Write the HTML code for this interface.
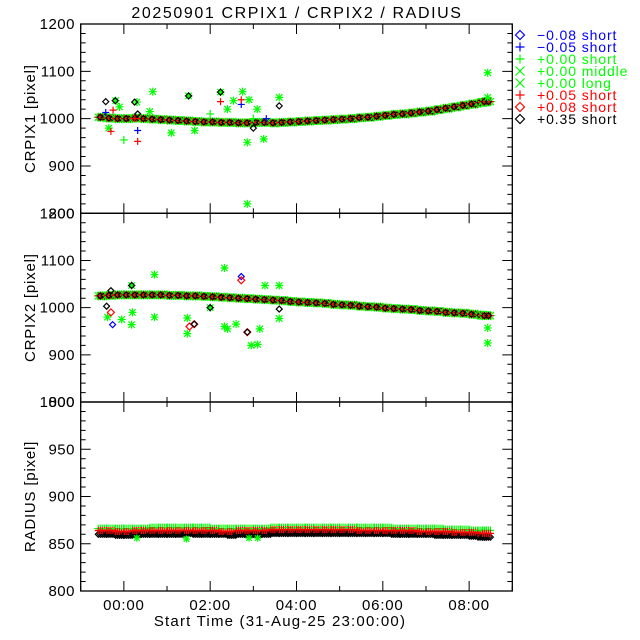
<!DOCTYPE html>
<html><head><meta charset="utf-8"><style>
body{margin:0;background:#fff}
svg{display:block;font-family:"Liberation Sans",sans-serif}
</style></head><body>
<svg id="c" width="640" height="640" viewBox="0 0 640 640"></svg>
<script>
const times=[-0.5,-0.3,-0.1,0.1,0.3,0.5,0.7,0.9,1.1,1.3,1.5,1.7,1.9,2.1,2.3,2.5,2.7,2.9,3.1,3.3,3.5,3.7,3.9,4.1,4.3,4.5,4.7,4.9,5.1,5.3,5.5,5.7,5.9,6.1,6.3,6.5,6.7,6.9,7.1,7.3,7.5,7.7,7.9,8.1,8.3,8.4];
const crpix1=[1003,1001,1000,1000,1001,1000,999,998,997,996,995,994,993,993,992,992,991,991,992,992,991,992,993,994,995,996,997,998,999,1000,1002,1003,1005,1007,1009,1010,1012,1014,1016,1019,1022,1025,1028,1031,1034,1036];
const crpix2=[1025,1026,1027,1027,1027,1027,1027,1027,1026,1026,1025,1025,1024,1023,1022,1021,1020,1019,1018,1017,1016,1015,1013,1012,1011,1010,1009,1007,1006,1005,1003,1002,1001,999,998,997,996,994,993,992,990,989,988,986,984,983];
const radiusBlack=[860,860,859,859,860,860,860,860,860,860,861,860,860,860,860,859,860,860,860,860,861,861,861,861,861,861,861,861,861,861,861,861,861,861,860,860,860,860,860,859,859,859,859,858,857,857];
const radiusRed=[864,864,863,863,864,864,864,864,864,864,864,864,864,864,863,863,864,864,864,864,865,865,865,865,865,865,865,865,865,865,864,864,864,864,864,864,864,863,863,863,863,862,862,862,861,861];
const radiusGreen=[866,866,866,866,866,866,867,867,867,867,867,867,867,866,866,866,866,866,866,866,867,867,867,867,867,867,867,867,867,867,867,867,867,867,866,866,866,866,866,866,865,865,865,864,864,864];
// outliers: [time, value]
const out1Green=[[-0.19,1038],[0.67,1057],[1.5,1048],[2.24,1056],[2.54,1038],[2.75,1057],[2.86,950],[2.86,820],[3.09,1020],[3.24,957],[3.6,1045],[0.3,1035],[1.1,970],[1.64,975],[8.43,1097],[8.43,1045],[-0.35,980],[0.6,1015],[2.4,1020],[2.9,1040],[-0.1,1025]];
const out1GreenPlus=[[0.0,955],[2.0,1010],[3.0,1000]];
const out1Blue=[[-0.42,1013],[0.32,975],[2.72,1030],[3.3,1000]];
const out1Red=[[0.32,952],[-0.3,973],[-0.25,1018],[2.72,1040],[2.24,1036],[0.25,1000]];
const out1Black=[[-0.42,1036],[0.32,1010],[3.0,980],[3.6,1027],[-0.2,1038],[1.5,1048],[2.24,1056],[0.25,1035]];
const out2Green=[[0.71,1070],[0.71,980],[1.47,945],[1.47,978],[2.33,1084],[2.33,960],[2.4,955],[2.6,965],[2.95,920],[3.1,922],[3.15,955],[3.27,1047],[3.6,1047],[3.6,977],[-0.38,980],[-0.05,975],[0.18,964],[0.18,1047],[8.43,957],[8.43,925],[2.0,1000],[0.2,990]];
const out2Blue=[[-0.26,964],[2.72,1066]];
const out2Red=[[1.52,960],[1.63,965],[2.86,948],[2.72,1058],[-0.3,990]];
const out2Black=[[1.63,965],[2.86,948],[3.6,997],[-0.4,1003],[0.18,1047],[-0.3,1036],[2.0,1000]];
const out3Green=[[1.45,855],[0.3,856],[2.9,856],[3.1,856]];
const xTicks=["00:00","02:00","04:00","06:00","08:00"];
const xTickVals=[0,2,4,6,8];
const legendLabels=["\u22120.08 short","\u22120.05 short","+0.00 short","+0.00 middle","+0.00 long","+0.05 short","+0.08 short","+0.35 short"];
const legendColors=["#0000ff","#0000ff","#00ff00","#00ff00","#00ff00","#ff0000","#ff0000","#000000"];
const legendSyms=["diamond","plus","plus","x","x","plus","diamond","diamond"];

const NS="http://www.w3.org/2000/svg";
const svg=document.getElementById('c');
const X0=80.7,X1=512.3,T0=-1,T1=9;
const xs=t=>X0+(t-T0)/(T1-T0)*(X1-X0);
const panels=[
 {top:24,bot:213.3,min:800,max:1200,major:100,minor:20,labels:["800","900","1000","1100","1200"],title:"CRPIX1 [pixel]",name:"crpix1"},
 {top:213.3,bot:402,min:800,max:1200,major:100,minor:20,labels:["800","900","1000","1100","1200"],title:"CRPIX2 [pixel]",name:"crpix2"},
 {top:402,bot:591,min:800,max:1000,major:50,minor:10,labels:["800","850","900","950","1000"],title:"RADIUS [pixel]",name:"radius"}];
function el(tag,attrs,parent){const e=document.createElementNS(NS,tag);for(const k in attrs)e.setAttribute(k,attrs[k]);(parent||svg).appendChild(e);return e;}
function marker(g,type,x,y,color,s){
  let d;
  if(type==="diamond")d=`M${x},${y-s}L${x+s},${y}L${x},${y+s}L${x-s},${y}Z`;
  else if(type==="plus")d=`M${x-s},${y}H${x+s}M${x},${y-s}V${y+s}`;
  else if(type==="x")d=`M${x-s},${y-s}L${x+s},${y+s}M${x-s},${y+s}L${x+s},${y-s}`;
  else d=`M${x-s},${y}H${x+s}M${x},${y-s}V${y+s}M${x-s*0.8},${y-s*0.8}L${x+s*0.8},${y+s*0.8}M${x-s*0.8},${y+s*0.8}L${x+s*0.8},${y-s*0.8}`;
  const p=el('path',{d:d,stroke:color,'stroke-width':1.2,fill:'none'},g);
  
  
}
const ti=el('text',{x:297,y:18,'text-anchor':'middle','font-size':16,'letter-spacing':1.6});ti.textContent="20250901 CRPIX1 / CRPIX2 / RADIUS";


panels.forEach((p,i)=>{
  const ys=v=>p.bot-(v-p.min)/(p.max-p.min)*(p.bot-p.top);
  p.ys=ys;
  const g=el('g',{});
  for(let v=p.min;v<=p.max;v+=p.minor){
    const y=ys(v);const L=(v-p.min)%p.major===0?10:5;
    el('path',{d:`M${X0},${y}h${L}M${X1},${y}h${-L}`,stroke:'#000','stroke-width':1},g);
  }
  p.labels.forEach(l=>{const t=el('text',{x:75,y:ys(+l)+5,'text-anchor':'end','font-size':15,'letter-spacing':0.5},g);t.textContent=l;
    });
  for(let h=-1;h<=9;h++){const x=xs(h);const L=h%2===0?10:5;
    el('path',{d:`M${x},${p.bot}v${-L}M${x},${p.top}v${L}`,stroke:'#000','stroke-width':1},g);}
  const r=el('rect',{x:X0,y:p.top,width:X1-X0,height:p.bot-p.top,fill:'none',stroke:'#000','stroke-width':1.3},g);
  
  const yt=el('text',{transform:`translate(35,${(p.top+p.bot)/2}) rotate(-90)`,'text-anchor':'middle','font-size':15,'letter-spacing':0.8},g);
  yt.textContent=p.title;
});
const offs=[-4,-2,0,2,4];
function band(pi,vals){
  const p=panels[pi];const g=el('g',{});
  times.forEach((t,i)=>{const y=p.ys(vals[i]);
    offs.forEach(o=>{const x=xs(t)+o;marker(g,'asterisk',x,y,'#00ff00',4.5);});
    offs.forEach(o=>{const x=xs(t)+o;marker(g,'plus',x,y,'#ff0000',3.5);});
    offs.forEach((o,k)=>{if(k%2===1){const x=xs(t)+o;marker(g,'diamond',x,y,'#000',3);}});});
}
function pts(pi,arr,type,color,s){const p=panels[pi];const g=el('g',{});
  arr.forEach(a=>marker(g,type,xs(a[0]),p.ys(a[1]),color,s));}
band(0,crpix1);band(1,crpix2);
pts(0,out1Green,'asterisk','#00ff00',4);pts(0,out1GreenPlus,'plus','#00ff00',4);
pts(0,out1Blue,'plus','#0000ff',3.5);pts(0,out1Red,'plus','#ff0000',3.5);pts(0,out1Black,'diamond','#000',3);
pts(1,out2Green,'asterisk','#00ff00',4);pts(1,out2Blue,'diamond','#0000ff',3);
pts(1,out2Red,'diamond','#ff0000',3.5);pts(1,out2Black,'diamond','#000',3);
(function(){const p=panels[2];const g=el('g',{});
  times.forEach((t,i)=>{
    offs.forEach(o=>{const x=xs(t)+o;marker(g,'plus',x,p.ys(radiusGreen[i]),'#00ff00',4);});
    offs.forEach(o=>{const x=xs(t)+o;marker(g,'diamond',x,p.ys(radiusBlack[i]),'#000',3);});
    offs.forEach(o=>{const x=xs(t)+o;marker(g,'plus',x,p.ys(radiusRed[i]),'#ff0000',3.5);});});})();
pts(2,out3Green,'asterisk','#00ff00',3.5);
xTicks.forEach((l,i)=>{const t=el('text',{x:xs(xTickVals[i]),y:610,'text-anchor':'middle','font-size':15,'letter-spacing':0.8});t.textContent=l;
  });
const xt=el('text',{x:280,y:626,'text-anchor':'middle','font-size':15,'letter-spacing':1.2});xt.textContent="Start Time (31-Aug-25 23:00:00)";

const lg=el('g',{});
legendLabels.forEach((l,i)=>{const y=35+i*12;
  const e=el('g',{},lg);
  marker(e,legendSyms[i],520,y,legendColors[i],4.5);
  const t=el('text',{x:537,y:y+5,'font-size':14,'letter-spacing':0.9,fill:legendColors[i]},e);t.textContent=l;});
</script>
</body></html>
